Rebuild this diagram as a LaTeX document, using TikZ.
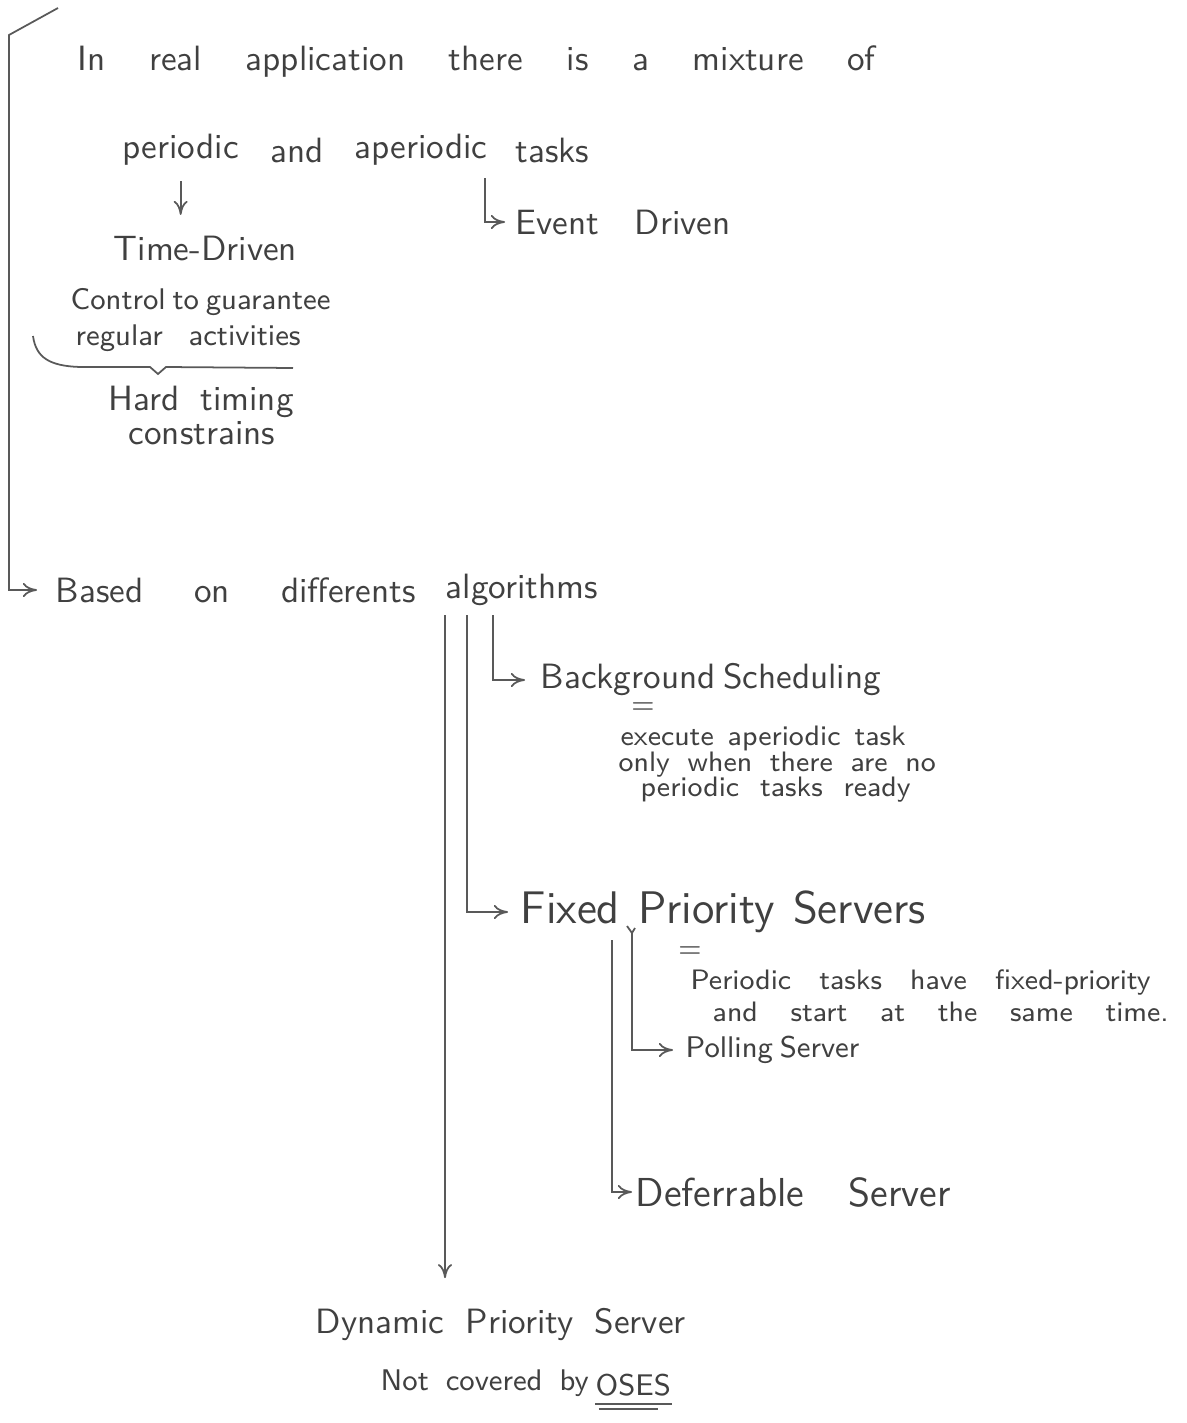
\documentclass[tikz,border=0pt]{standalone}
\usetikzlibrary{calc}
\usetikzlibrary{positioning}
\usetikzlibrary{arrows.meta}
\newcommand{\spreadto}[2]{\makebox[#1][s]{#2}}

\begin{document}
\begin{tikzpicture}[>={To[length=4pt,width=4pt]},
  every node/.append style={inner sep=0pt, anchor=west, text=black!75},
  hand/.style={font=\sffamily\fontsize{10}{12}\selectfont},
  thin/.style={font=\sffamily\fontsize{8.5}{10}\selectfont},
  small/.style={font=\sffamily\fontsize{8}{9}\selectfont},
  large/.style={font=\sffamily\fontsize{11.5}{13}\selectfont},
  huge/.style={font=\sffamily\fontsize{13}{15}\selectfont},
  pen/.style={draw=black!65, line width=0.5pt}]
  \useasboundingbox (0,0) rectangle (11.86,-14.23);
  \coordinate (top) at (0.58,-0.08);
  \coordinate (corner) at (0.09,-0.35);
  \node[hand] (mix) at (0.77,-0.62) {\spreadto{7.98cm}{In real application there is a mixture of}};
  \node[hand] (periodic) at (1.22,-1.50) {periodic};
  \node[hand] (and) at (2.70,-1.50) {and};
  \node[hand, anchor=east] (aperiodic) at (4.88,-1.50) {aperiodic};
  \node[hand] (tasks) at (5.15,-1.50) {tasks};
  \node[hand] (event) at (5.15,-2.22) {\spreadto{2.15cm}{Event Driven}};
  \node[hand] (timedriven) at (1.13,-2.48) {Time-Driven};
  \node[thin] (control) at (0.70,-3.02) {\spreadto{2.55cm}{Control to guarantee}};
  \node[thin] (regular) at (0.75,-3.38) {\spreadto{2.25cm}{regular activities}};
  \coordinate (braceL) at (0.33,-3.36);
  \coordinate (braceM) at (1.58,-3.74);
  \coordinate (braceR) at (2.93,-3.68);
  \node[hand] (hard) at (1.08,-4.02) {\spreadto{1.85cm}{Hard timing}};
  \node[hand] (constr) at (1.28,-4.33) {constrains};
  \node[hand] (based) at (0.55,-5.90) {\spreadto{3.60cm}{Based on differents}};
  \node[hand] (algos) at (4.45,-5.90) {algorithms};
  \node[hand] (background) at (5.40,-6.80) {\spreadto{3.30cm}{Background Scheduling}};
  \node[small, anchor=center] (eqa) at (6.43,-7.08) {=};
  \node[small] (bga) at (6.20,-7.38) {\spreadto{2.85cm}{execute aperiodic task}};
  \node[small] (bgb) at (6.18,-7.65) {\spreadto{3.17cm}{only when there are no}};
  \node[small] (bgc) at (6.40,-7.90) {\spreadto{2.70cm}{periodic tasks ready}};
  \node[huge] (fixed) at (5.20,-9.12) {\spreadto{4.05cm}{Fixed Priority Servers}};
  \node[small, anchor=center] (eqb) at (6.90,-9.52) {=};
  \node[small] (fpa) at (6.90,-9.82) {\spreadto{4.60cm}{Periodic tasks have fixed-priority}};
  \node[small] (fpb) at (7.12,-10.12) {\spreadto{4.56cm}{and start at the same time.}};
  \node[thin] (polling) at (6.85,-10.50) {\spreadto{1.70cm}{Polling Server}};
  \node[large] (deferrable) at (6.35,-11.92) {\spreadto{3.15cm}{Deferrable Server}};
  \node[hand] (dynamic) at (3.15,-13.25) {\spreadto{3.70cm}{Dynamic Priority Server}};
  \node[thin] (notcov) at (3.80,-13.83) {\spreadto{2.08cm}{Not covered by}};
  \node[thin] (oses) at (5.95,-13.85) {OSES};
  \coordinate (a1) at (4.45,-6.15);
  \coordinate (a2) at (4.67,-6.15);
  \coordinate (a3) at (4.93,-6.15);
  \coordinate (b1) at (6.12,-9.40);
  \coordinate (b2) at (6.32,-9.33);
  \draw[pen,->] (top) -- (corner) |- ([xshift=-0.18cm]based.west);
  \draw[pen,->] ([yshift=-0.15cm]periodic.south) -- ([yshift=0.2cm]timedriven.north -| periodic.south);
  \draw[pen,->] ([xshift=-0.03cm,yshift=-0.12cm]aperiodic.south east) |- ([xshift=-0.1cm]event.west);
  \draw[pen] (braceL) .. controls (0.36,-3.58) and (0.50,-3.66) .. (0.80,-3.67)
    -- (1.50,-3.67) -- (braceM) -- (1.66,-3.67) -- (braceR);
  \draw[pen,->] (a1) -- ([yshift=0.3cm]a1 |- dynamic.north);
  \draw[pen,->] (a2) |- ([xshift=-0.12cm]fixed.west);
  \draw[pen,->] (a3) |- ([xshift=-0.15cm]background.west);
  \draw[pen,->] (b1) |- ([xshift=-0.03cm]deferrable.west);
  \draw[pen,->] (b2) |- ([xshift=-0.12cm]polling.west);
  \draw[pen] (b2) -- ++(-0.05,0.07) (b2) -- ++(0.03,0.05);
  \draw[pen] ([yshift=-2pt]oses.south west) -- ([yshift=-2pt]oses.south east);
  \draw[pen] ([xshift=1pt,yshift=-3.5pt]oses.south west) -- ([xshift=-4pt,yshift=-3.5pt]oses.south east);
\end{tikzpicture}
\end{document}
